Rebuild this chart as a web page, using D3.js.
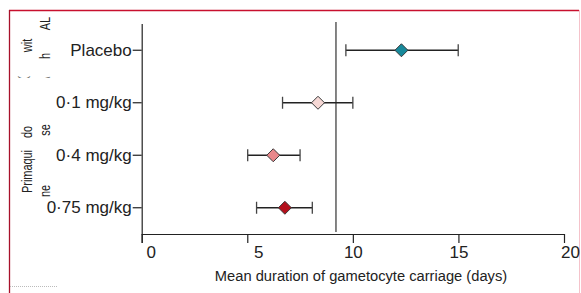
<!DOCTYPE html>
<html>
<head>
<meta charset="utf-8">
<style>
  body { margin: 0; background: #fff; }
  svg { display: block; font-family: "Liberation Sans", Arial, sans-serif; }
</style>
</head>
<body>
<svg id="chart" width="581" height="293"></svg>
<script src="https://d3js.org/d3.v7.min.js"></script>
<script>
  const groups = ["Placebo", "0·1 mg/kg", "0·4 mg/kg", "0·75 mg/kg"];
  const means = [12.3, 8.35, 6.23, 6.78];
  const lower = [9.67, 6.67, 5.02, 5.44];
  const upper = [14.99, 10.0, 7.5, 8.08];
  const colors = ["#17899b", "#f6d8d5", "#e8878b", "#b3101c"];
  const xTicks = [0, 5, 10, 15, 20];
  const refValue = 9.2;

  const svg = d3.select("#chart");

  // frame lines
  svg.append("line").attr("x1", 9).attr("x2", 579).attr("y1", 10.5).attr("y2", 10.5)
    .attr("stroke", "#c8102e").attr("stroke-width", 1.3);
  svg.append("line").attr("x1", 9.5).attr("x2", 9.5).attr("y1", 10).attr("y2", 293)
    .attr("stroke", "#a8102a").attr("stroke-width", 1.3);
  svg.append("line").attr("x1", 579.5).attr("x2", 579.5).attr("y1", 10).attr("y2", 293)
    .attr("stroke", "#f5c3cb").attr("stroke-width", 1);
  svg.append("line").attr("x1", 10).attr("x2", 57).attr("y1", 286.5).attr("y2", 286.5)
    .attr("stroke", "#aaa").attr("stroke-width", 0.8).attr("stroke-dasharray", "1,1");

  const x = d3.scaleLinear().domain([0, 20]).range([141.7, 564]);
  const y = d3.scaleBand().domain(groups).range([24, 234]);
  const yc = d => y(d) + y.bandwidth() / 2;

  // y axis
  const yAxis = svg.append("g").attr("transform", "translate(141.7,0)")
    .call(d3.axisLeft(y).tickSize(9).tickPadding(1));
  yAxis.select(".domain").attr("d", "M0.5,24V243").attr("stroke", "#222").attr("stroke-width", 1.2);
  yAxis.selectAll(".tick line").attr("stroke", "#222").attr("stroke-width", 1.2);
  yAxis.selectAll(".tick text").attr("font-size", 17).attr("fill", "#222")
    .attr("font-family", "Liberation Sans, Arial, sans-serif");

  // x axis
  const labelShift = [9, 11, 0, 0, 6];
  const xAxis = svg.append("g").attr("transform", "translate(0,234)")
    .call(d3.axisBottom(x).tickValues(xTicks).tickSize(9).tickFormat(d3.format("d")));
  xAxis.select(".domain").attr("d", `M${x(0)},0.5H${x(20)}`).attr("stroke", "#222").attr("stroke-width", 1.2);
  xAxis.selectAll(".tick line").attr("stroke", "#222").attr("stroke-width", 1.2);
  xAxis.selectAll(".tick text").attr("font-size", 17).attr("fill", "#222")
    .attr("font-family", "Liberation Sans, Arial, sans-serif")
    .attr("y", 24).attr("dy", null)
    .attr("x", (d, i) => labelShift[i]);

  svg.append("text").attr("x", 361).attr("y", 281).attr("text-anchor", "middle")
    .attr("font-size", 14.7).attr("fill", "#222")
    .text("Mean duration of gametocyte carriage (days)");

  // reference line
  svg.append("line").attr("x1", x(refValue)).attr("x2", x(refValue)).attr("y1", 22).attr("y2", 232)
    .attr("stroke", "#777").attr("stroke-width", 1.8);

  // error bars
  const rows = groups.map((g, i) => ({ g, m: means[i], lo: lower[i], hi: upper[i], c: colors[i] }));
  const bars = svg.append("g").selectAll("g").data(rows).join("g");
  bars.append("line").attr("x1", d => x(d.lo)).attr("x2", d => x(d.hi))
    .attr("y1", d => yc(d.g)).attr("y2", d => yc(d.g))
    .attr("stroke", "#222").attr("stroke-width", 1.3);
  bars.append("line").attr("x1", d => x(d.lo)).attr("x2", d => x(d.lo))
    .attr("y1", d => yc(d.g) - 6).attr("y2", d => yc(d.g) + 6)
    .attr("stroke", "#444").attr("stroke-width", 1.3);
  bars.append("line").attr("x1", d => x(d.hi)).attr("x2", d => x(d.hi))
    .attr("y1", d => yc(d.g) - 6).attr("y2", d => yc(d.g) + 6)
    .attr("stroke", "#444").attr("stroke-width", 1.3);
  bars.append("path")
    .attr("d", d => {
      const cx = x(d.m), cy = yc(d.g), r = 6.5;
      return `M${cx},${cy - r}L${cx + r},${cy}L${cx},${cy + r}L${cx - r},${cy}Z`;
    })
    .attr("fill", d => d.c).attr("stroke", "#3a3a3a").attr("stroke-width", 1);

  // rotated group label fragments (narrow, condensed look)
  const frags = [
    { t: "AL", x: 45, y: 23.5 },
    { t: "wit", x: 27, y: 45.5 },
    { t: "h", x: 45, y: 56 },
    { t: "do", x: 27, y: 132 },
    { t: "se", x: 45, y: 130 },
    { t: "Primaqui", x: 27, y: 171.5 },
    { t: "ne", x: 45, y: 191 }
  ];
  svg.append("g").selectAll("text").data(frags).join("text")
    .attr("transform", d => `translate(${d.x + 5},${d.y}) rotate(-90) scale(0.78,1)`)
    .attr("text-anchor", "middle").attr("font-size", 14).attr("fill", "#222")
    .text(d => d.t);

  // clipped leftovers of a hidden line
  svg.append("clipPath").attr("id", "cut").append("rect")
    .attr("x", 12).attr("y", 72).attr("width", 45).attr("height", 6);
  const bits = svg.append("g").attr("clip-path", "url(#cut)");
  [{ t: "(", x: 22 }, { t: "l", x: 33 }, { t: "\\", x: 45 }].forEach(b => {
    bits.append("text").attr("transform", `translate(${b.x + 5},80) rotate(-90)`)
      .attr("font-size", 12).attr("fill", "#666").text(b.t);
  });
</script>
</body>
</html>
